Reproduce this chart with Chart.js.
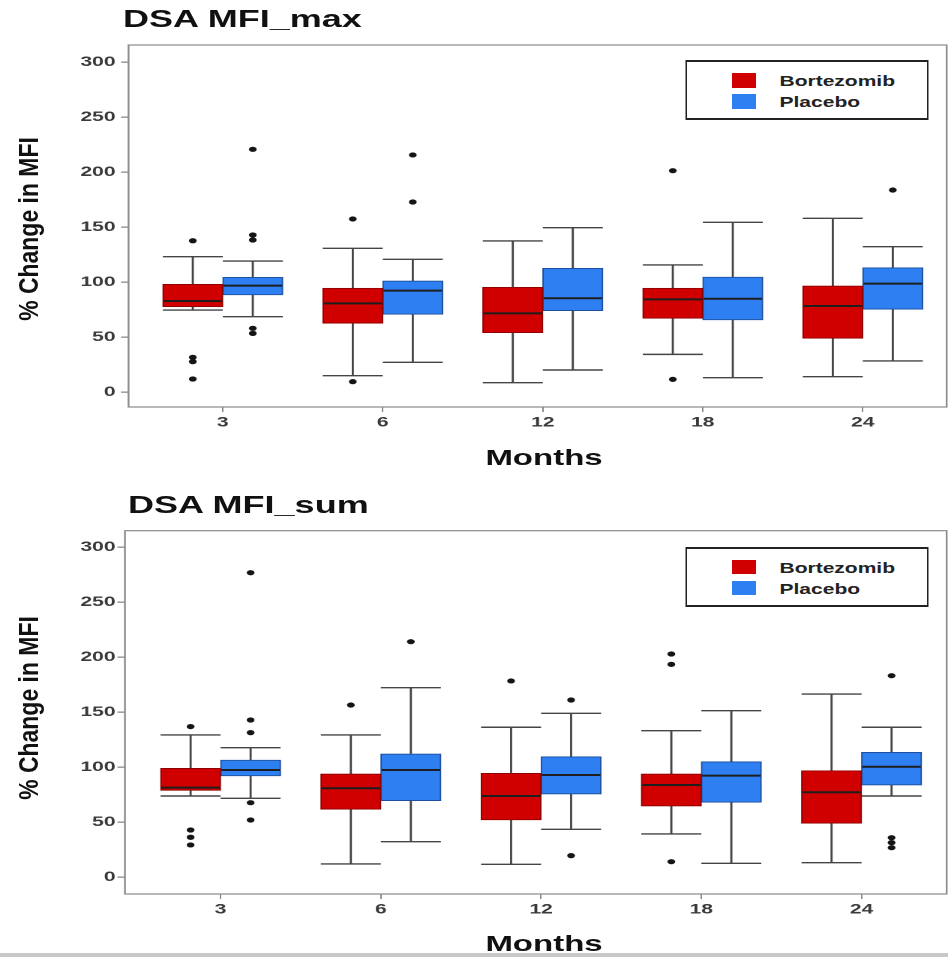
<!DOCTYPE html>
<html>
<head>
<meta charset="utf-8">
<script src="https://cdn.jsdelivr.net/npm/chart.js@4.4.0/dist/chart.umd.min.js"></script>
<style>
    html, body { margin: 0; padding: 0; background: #fff; width: 948px; height: 957px; overflow: hidden; }
    #stretch { position: absolute; left: 0; top: 0; width: 632px; height: 957px; transform: scaleX(1.5); transform-origin: 0 0; }
    .panel { position: absolute; left: 0; width: 632px; }
    .title { position: absolute; font: bold 24px/24px "Liberation Sans", Arial, sans-serif; color: #111; white-space: nowrap; }
    .xlab { position: absolute; left: 362.7px; transform: translateX(-50%); font: bold 22px/22px "Liberation Sans", Arial, sans-serif; color: #111; white-space: nowrap; }
    .ylab { position: absolute; transform: translate(-50%, -50%) rotate(-90deg) scaleX(0.85); font: bold 27px/27px "Liberation Sans", Arial, sans-serif; color: #111; white-space: nowrap; }
    .legend { position: absolute; left: 456.7px; width: 162px; height: 60px; box-sizing: border-box; border-style: solid; border-color: #222; border-width: 2px 1.3px; background: #fff; }
    .legend .key { position: absolute; left: 30px; width: 16.5px; height: 14.5px; }
    .legend .label { position: absolute; left: 62px; font: bold 14px/14px "Liberation Sans", Arial, sans-serif; color: #222; white-space: nowrap; }
    #band { position: absolute; left: 0; top: 953px; width: 948px; height: 4px; background: #c8c8c8; }
</style>
</head>
<body>
<div id="stretch">
    <div class="title" style="left:82px;top:7px">DSA MFI_max</div>
    <div class="panel" style="top:0;height:478px"><canvas id="maxChart"></canvas></div>
    <div class="legend" id="maxLegend" style="top:60px"></div>
    <div class="xlab" style="top:447px">Months</div>

    <div class="title" style="left:85.3px;top:493.4px">DSA MFI_sum</div>
    <div class="panel" style="top:478px;height:479px"><canvas id="sumChart"></canvas></div>
    <div class="legend" id="sumLegend" style="top:546.7px"></div>
    <div class="xlab" style="top:932.6px">Months</div>
</div>
<div class="ylab" style="left:29px;top:228.5px">% Change in MFI</div>
<div class="ylab" style="left:29px;top:708px">% Change in MFI</div>
<div id="band"></div>

<script>
const MONTHS = ['3', '6', '12', '18', '24'];
const Y_TICKS = [0, 50, 100, 150, 200, 250, 300];
const GROUPS = ['Bortezomib', 'Placebo'];

// each entry: [lower whisker, Q1, median, Q3, upper whisker]
const maxBortezomib = [
    [74.5, 77.5, 82.7, 97.9, 123],
    [14.8, 62.4, 80.6, 94.3, 130.6],
    [8.5, 53.9, 71.5, 95.2, 137.3],
    [34.2, 67, 84.2, 94.3, 115.5],
    [13.9, 48.8, 78.2, 96.4, 157.9]
];
const maxPlacebo = [
    [68.5, 88.2, 96.7, 104.2, 119],
    [27, 70.6, 92.1, 100.9, 120.6],
    [20, 73.9, 85.2, 112.4, 149.4],
    [13, 65.5, 84.8, 104.5, 154.3],
    [28.2, 75.2, 98.5, 113, 132.1]
];
const maxBortezomibOut = [[137.5, 31.5, 27.6, 11.8], [157.3, 9.4], [], [201.2, 11.5], []];
const maxPlaceboOut = [[220.6, 142.7, 138.2, 57.9, 53.3], [215.5, 172.7], [], [], [183.6]];

const sumBortezomib = [
    [73.9, 79, 81.5, 99.1, 129.4],
    [12.1, 61.8, 80.9, 93.9, 129.4],
    [11.8, 52.1, 73.9, 94.5, 136.4],
    [39.4, 64.8, 83.9, 93.9, 133.3],
    [13.3, 49.1, 77.3, 96.9, 166.6]
];
const sumPlacebo = [
    [71.8, 92.1, 97.5, 106.6, 117.8],
    [32.4, 69.7, 97.5, 112.1, 172.4],
    [43.6, 75.7, 93, 109.6, 149.1],
    [12.7, 68.2, 92.4, 105.1, 151.5],
    [73.9, 83.9, 100.5, 113.6, 136.4]
];
const sumBortezomibOut = [[137, 43, 36.4, 29.4], [156.6], [178.5], [203, 193.6, 14.2], []];
const sumPlaceboOut = [[276.9, 143, 131.5, 67.8, 52.1], [214.2], [161.2, 19.7], [], [183.3, 36, 31.5, 26.9]];

const FILL = ['#d10000', '#2e80f2'];
const EDGE = ['#8f0000', '#1f4f9c'];
const FONT = '"Liberation Sans", Arial, Helvetica, sans-serif';

// whiskers, medians, outliers and the panel frame, placed from the bar elements and the y scale
const boxPlot = {
    id: 'boxPlot',
    beforeDatasetsDraw(chart) {
        const ctx = chart.ctx;
        const y = chart.scales.y;
        ctx.save();
        ctx.strokeStyle = '#454545';
        ctx.lineWidth = 1.4;
        chart.data.datasets.forEach((ds, di) => {
            chart.getDatasetMeta(di).data.forEach((bar, i) => {
                const s = ds.stats[i];
                const half = bar.width / 2;
                const lo = y.getPixelForValue(s[0]);
                const hi = y.getPixelForValue(s[4]);
                ctx.beginPath();
                ctx.moveTo(bar.x, lo);
                ctx.lineTo(bar.x, hi);
                ctx.moveTo(bar.x - half, lo);
                ctx.lineTo(bar.x + half, lo);
                ctx.moveTo(bar.x - half, hi);
                ctx.lineTo(bar.x + half, hi);
                ctx.stroke();
            });
        });
        ctx.restore();
    },
    afterDatasetsDraw(chart) {
        const ctx = chart.ctx;
        const y = chart.scales.y;
        const area = chart.chartArea;
        ctx.save();
        chart.data.datasets.forEach((ds, di) => {
            chart.getDatasetMeta(di).data.forEach((bar, i) => {
                const half = bar.width / 2;
                const my = y.getPixelForValue(ds.stats[i][2]);
                ctx.strokeStyle = '#1e1e1e';
                ctx.lineWidth = 2;
                ctx.beginPath();
                ctx.moveTo(bar.x - half + 0.5, my);
                ctx.lineTo(bar.x + half - 0.5, my);
                ctx.stroke();

                ctx.fillStyle = '#151515';
                ds.outliers[i].forEach(v => {
                    ctx.beginPath();
                    ctx.arc(bar.x, y.getPixelForValue(v), 2.6, 0, Math.PI * 2);
                    ctx.fill();
                });
            });
        });
        ctx.strokeStyle = '#8a8a8a';
        ctx.lineWidth = 1.2;
        ctx.strokeRect(area.left, area.top, area.right - area.left, area.bottom - area.top);
        ctx.restore();
    }
};

function drawPanel(canvasId, bort, plac, bortOut, placOut, frame) {
    const ctx = document.getElementById(canvasId).getContext('2d');
    const tickFont = { family: FONT, size: 14, weight: 'bold' };

    return new Chart(ctx, {
        type: 'bar',
        data: {
            datasets: [
                {
                    label: GROUPS[0],
                    data: bort.map((s, i) => ({ x: i, y: [s[1], s[3]] })),
                    stats: bort,
                    outliers: bortOut,
                    backgroundColor: FILL[0],
                    borderColor: EDGE[0],
                    borderWidth: 1,
                    borderSkipped: false,
                    barThickness: 40
                },
                {
                    label: GROUPS[1],
                    data: plac.map((s, i) => ({ x: i, y: [s[1], s[3]] })),
                    stats: plac,
                    outliers: placOut,
                    backgroundColor: FILL[1],
                    borderColor: EDGE[1],
                    borderWidth: 1,
                    borderSkipped: false,
                    barThickness: 40
                }
            ]
        },
        options: {
            responsive: true,
            maintainAspectRatio: false,
            devicePixelRatio: 2,
            animation: false,
            events: [],
            layout: {
                padding: { left: 0, top: frame.top, right: 632 - frame.right, bottom: 0 }
            },
            plugins: {
                legend: { display: false },
                tooltip: { enabled: false },
                title: { display: false }
            },
            scales: {
                x: {
                    type: 'linear',
                    offset: false,
                    min: frame.xMin,
                    max: frame.xMax,
                    afterBuildTicks: s => { s.ticks = MONTHS.map((m, i) => ({ value: i })); },
                    afterFit: s => { s.height = frame.height - frame.bottom; },
                    border: { display: false },
                    grid: { offset: false, drawOnChartArea: false, drawTicks: true, tickLength: 5, color: '#8a8a8a', lineWidth: 1 },
                    ticks: {
                        padding: 2,
                        maxRotation: 0,
                        autoSkip: false,
                        color: '#3a3a3a',
                        font: tickFont,
                        callback: v => MONTHS[v]
                    }
                },
                y: {
                    min: frame.yMin,
                    max: frame.yMax,
                    afterBuildTicks: s => { s.ticks = Y_TICKS.map(v => ({ value: v })); },
                    afterFit: s => { s.width = frame.left; },
                    border: { display: false },
                    grid: { drawOnChartArea: false, drawTicks: true, tickLength: 5, color: '#8a8a8a', lineWidth: 1.3 },
                    ticks: {
                        padding: frame.tickPad,
                        color: '#3a3a3a',
                        font: tickFont
                    }
                }
            }
        },
        plugins: [boxPlot]
    });
}

function buildLegend(id) {
    const box = document.getElementById(id);
    const keyTops = [11.3, 32.3];
    const labelTops = [12.2, 33.2];
    box.innerHTML = GROUPS.map((g, i) =>
        `<span class="key" style="top:${keyTops[i]}px;background:${FILL[i]}"></span>` +
        `<span class="label" style="top:${labelTops[i]}px">${g}</span>`
    ).join('');
}

document.addEventListener('DOMContentLoaded', function() {
    drawPanel('maxChart', maxBortezomib, maxPlacebo, maxBortezomibOut, maxPlaceboOut, {
        left: 85.7, top: 45, right: 631.1, bottom: 407, height: 478,
        xMin: -0.589, xMax: 4.524, yMin: -13.64, yMax: 315.45, tickPad: 3.7
    });
    drawPanel('sumChart', sumBortezomib, sumPlacebo, sumBortezomibOut, sumPlaceboOut, {
        left: 83.3, top: 52.7, right: 631.1, bottom: 416, height: 479,
        xMin: -0.597, xMax: 4.531, yMin: -15.2, yMax: 315.1, tickPad: 1.3
    });
    buildLegend('maxLegend');
    buildLegend('sumLegend');
});
</script>
</body>
</html>
